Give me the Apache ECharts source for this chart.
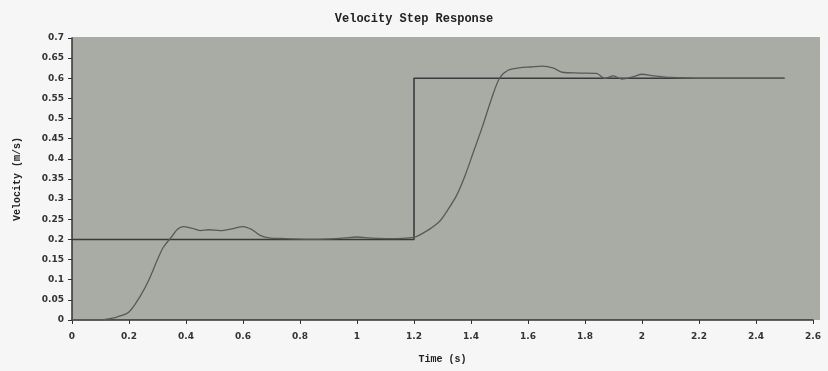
<!DOCTYPE html>
<html><head><meta charset="utf-8">
<script src="https://cdn.jsdelivr.net/npm/echarts@6/dist/echarts.min.js"></script>
<style>html,body{margin:0;padding:0;background:#f6f6f7;}#c{width:828px;height:371px;}</style>
</head><body><div id="c"></div>
<script>
const titleText = "Velocity Step Response";
const xName = "Time (s)";
const yName = "Velocity (m/s)";
const setpointT = [0, 1.2, 1.2, 2.5];
const setpointV = [0.2, 0.2, 0.6, 0.6];
const responseT = [0, 0.1, 0.12, 0.16, 0.2, 0.24, 0.27, 0.3, 0.32, 0.35, 0.37, 0.39, 0.42, 0.45, 0.48, 0.52, 0.56, 0.6, 0.63, 0.66, 0.69, 0.75, 0.85, 0.95, 1.0, 1.05, 1.1, 1.2, 1.23, 1.26, 1.29, 1.32, 1.35, 1.38, 1.41, 1.44, 1.47, 1.5, 1.53, 1.57, 1.61, 1.65, 1.69, 1.72, 1.78, 1.84, 1.87, 1.9, 1.93, 1.97, 2.0, 2.04, 2.1, 2.2, 2.35, 2.5];
const responseV = [0, 0, 0.002, 0.008, 0.02, 0.06, 0.1, 0.15, 0.18, 0.207, 0.225, 0.232, 0.228, 0.222, 0.224, 0.222, 0.226, 0.232, 0.225, 0.21, 0.204, 0.202, 0.2, 0.203, 0.206, 0.203, 0.202, 0.205, 0.215, 0.228, 0.245, 0.275, 0.31, 0.36, 0.42, 0.48, 0.545, 0.6, 0.62, 0.626, 0.628, 0.63, 0.625, 0.615, 0.613, 0.612, 0.6, 0.606, 0.598, 0.604, 0.61, 0.606, 0.602, 0.6, 0.6, 0.6];
const xTicks = [0, 0.2, 0.4, 0.6, 0.8, 1, 1.2, 1.4, 1.6, 1.8, 2, 2.2, 2.4, 2.6];
const yTicks = [0, 0.05, 0.1, 0.15, 0.2, 0.25, 0.3, 0.35, 0.4, 0.45, 0.5, 0.55, 0.6, 0.65, 0.7];

const chart = echarts.init(document.getElementById('c'), null, {renderer: 'canvas'});
const lab = {color: '#333', fontSize: 9, fontFamily: 'DejaVu Sans', fontWeight: 'bold'};
chart.setOption({
  backgroundColor: '#f6f6f7',
  animation: false,
  title: {text: titleText, left: 'center', top: 8,
    textStyle: {fontFamily: 'Liberation Mono', fontWeight: 'bold', fontSize: 12, color: '#222'}},
  graphic: [{type: 'rect', z: -10, shape: {x: 72, y: 37, width: 748, height: 283}, style: {fill: '#a9aba5'}}],
  grid: {left: 72, right: 15, top: 38, bottom: 51, show: true, backgroundColor: '#a9aba5', borderWidth: 0},
  xAxis: {type: 'value', min: 0, max: 2.6, interval: 0.2,
    name: xName, nameLocation: 'middle', nameGap: 34,
    nameTextStyle: {fontFamily: 'Liberation Mono', fontWeight: 'bold', fontSize: 10, color: '#222'},
    axisLine: {lineStyle: {color: '#333', width: 1.5}},
    axisTick: {show: true, length: 4, lineStyle: {color: '#333'}},
    splitLine: {show: false},
    axisLabel: Object.assign({margin: 12, formatter: v => xTicks.includes(Math.round(v*10)/10) ? String(Math.round(v*10)/10) : ''}, lab)},
  yAxis: {type: 'value', min: 0, max: 0.7, interval: 0.05,
    name: yName, nameLocation: 'middle', nameGap: 50, nameRotate: 90,
    nameTextStyle: {fontFamily: 'Liberation Mono', fontWeight: 'bold', fontSize: 10, color: '#222'},
    axisLine: {show: true, lineStyle: {color: '#333', width: 1.5}},
    axisTick: {show: true, length: 4, lineStyle: {color: '#333'}},
    splitLine: {show: false},
    axisLabel: Object.assign({margin: 8, formatter: v => String(Math.round(v*100)/100)}, lab)},
  series: [
    {type: 'line', data: setpointT.map((t, i) => [t, setpointV[i]]), symbol: 'none',
     lineStyle: {color: '#3a3a3a', width: 1.6}},
    {type: 'line', data: responseT.map((t, i) => [t, responseV[i]]), symbol: 'none', smooth: 0.3,
     lineStyle: {color: '#595a58', width: 1.3}}
  ]
});
</script></body></html>
